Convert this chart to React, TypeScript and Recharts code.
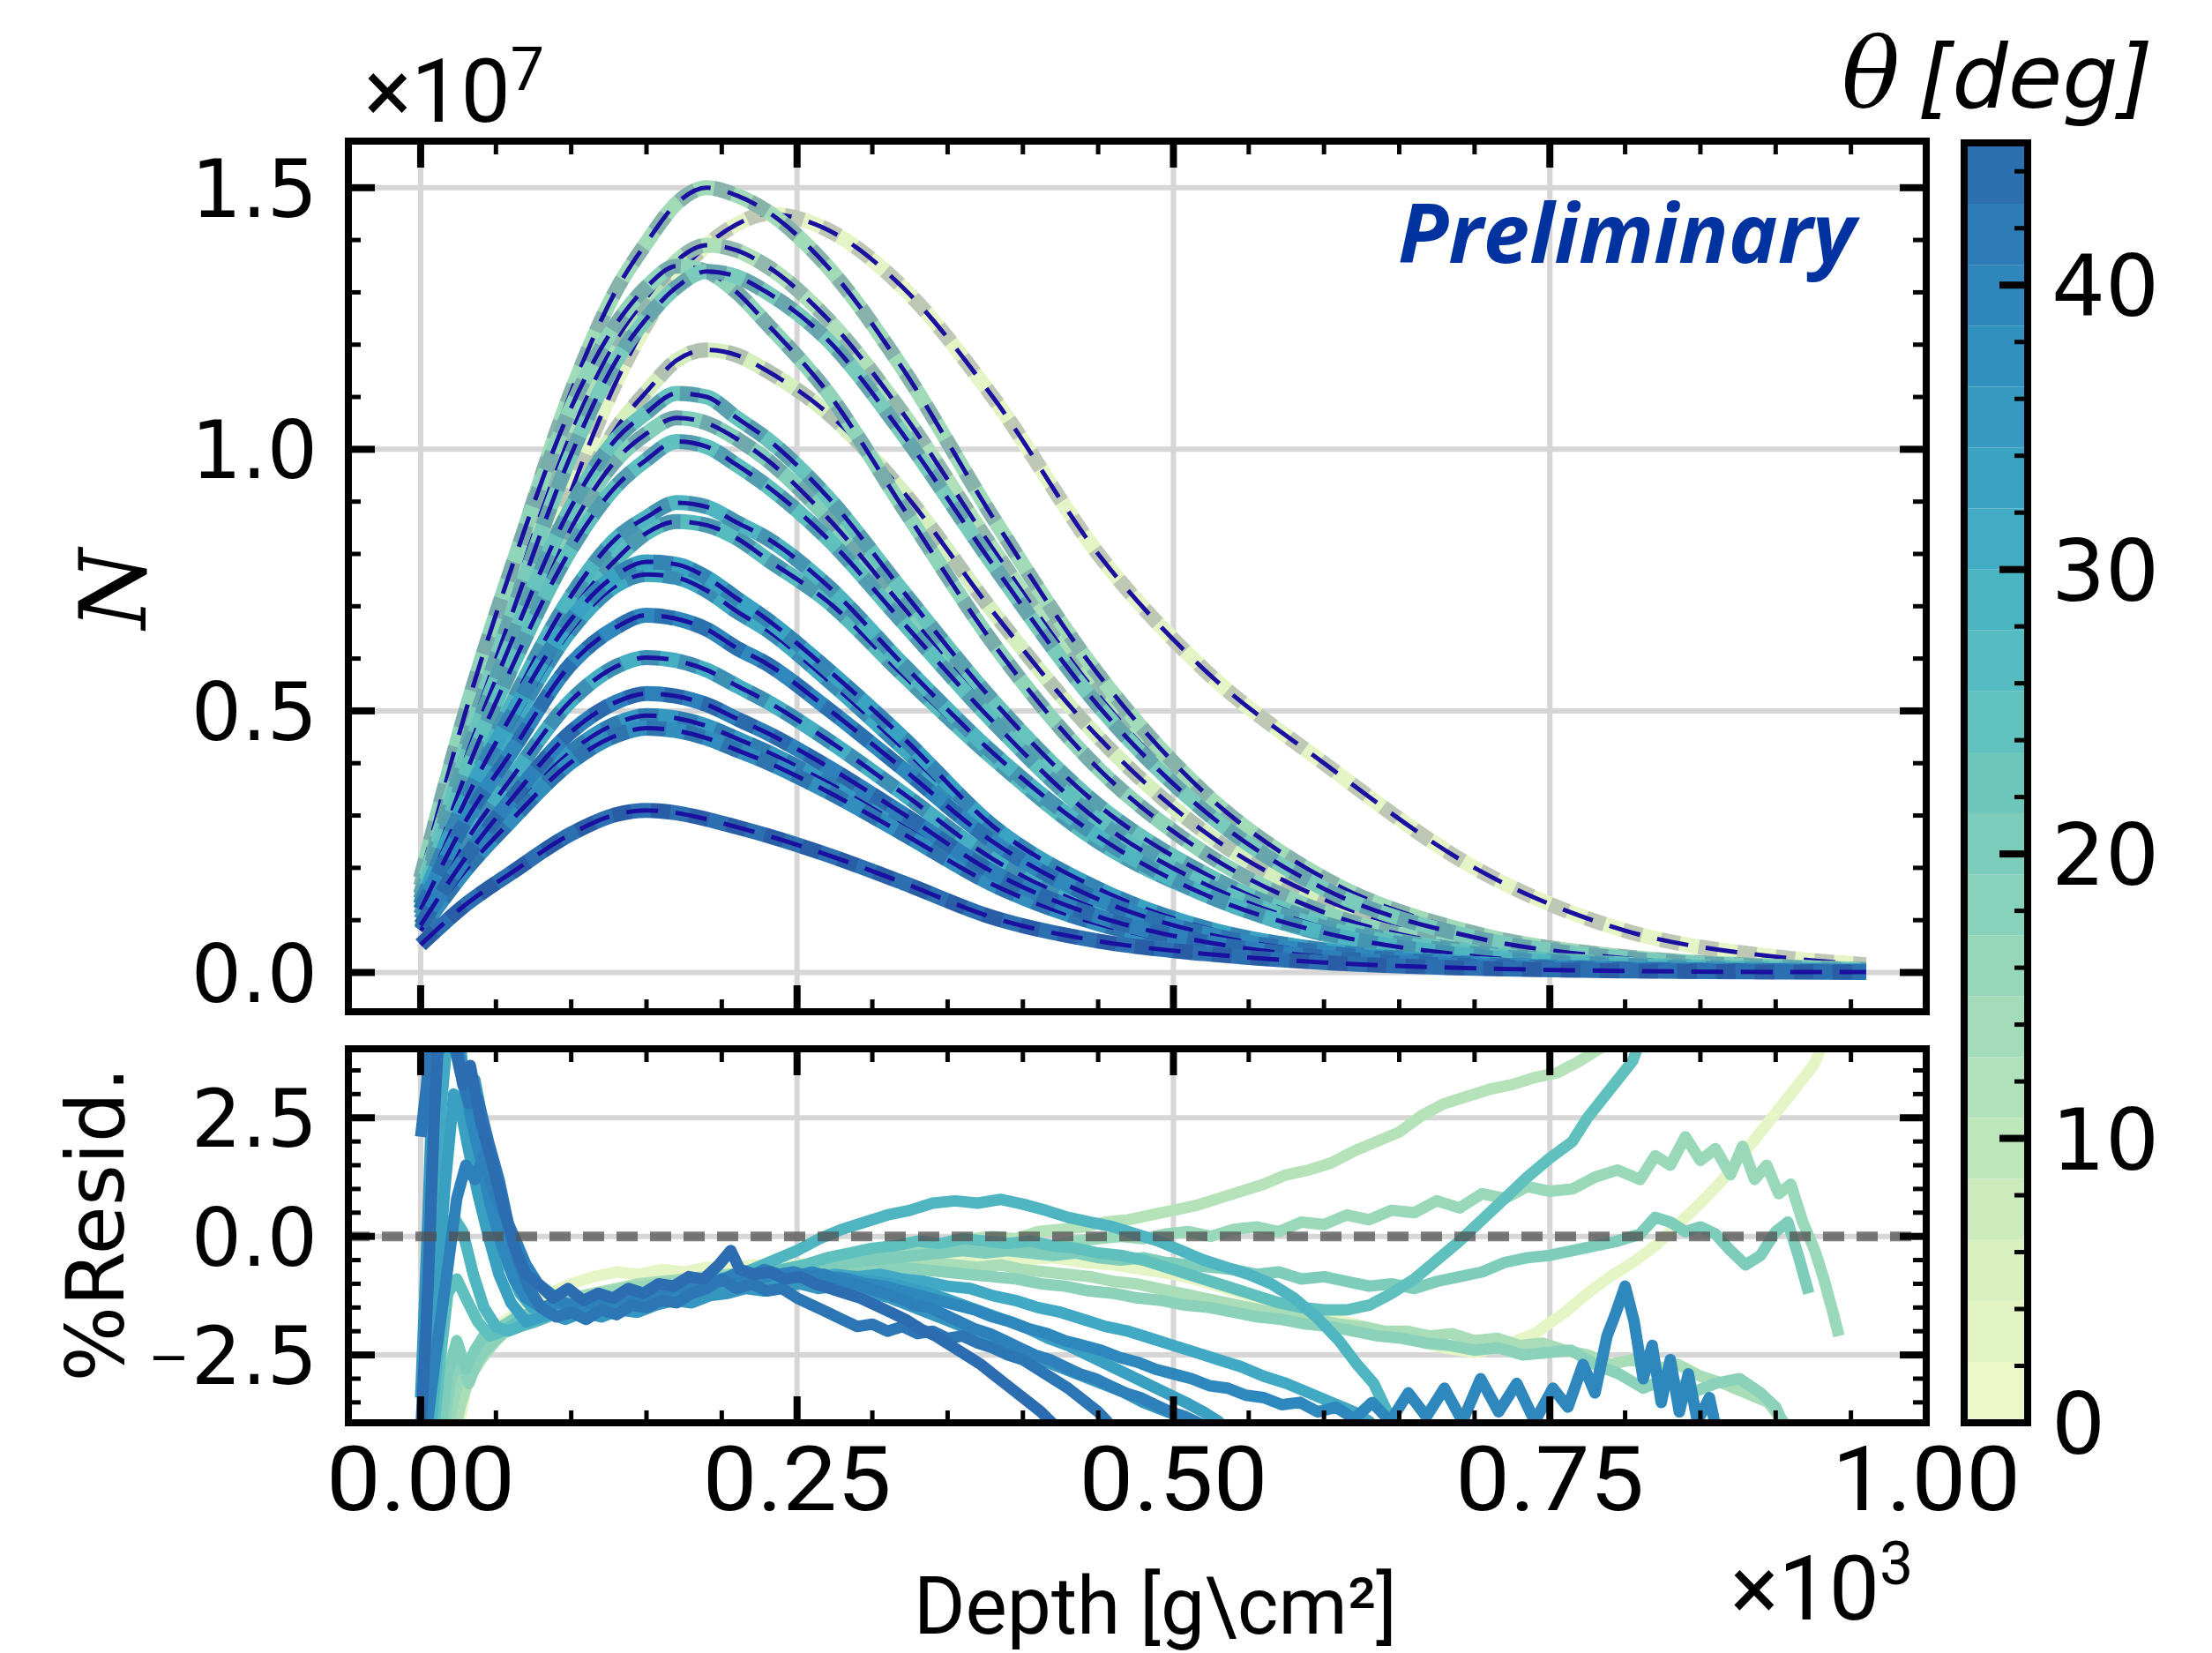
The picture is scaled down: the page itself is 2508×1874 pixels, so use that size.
import React from 'react';
import { LineChart, Line, XAxis, YAxis, CartesianGrid, ReferenceLine, BarChart, Bar } from 'recharts';

// ---------------- layout ----------------
const W = 2508;
const H = 1874;
const PLOT_L = 395;
const PLOT_R = 2184;
const TOP_T = 160;
const TOP_B = 1147;
const BOT_T = 1189;
const BOT_B = 1613;
const CB_L = 2227;
const CB_R = 2299;
const CB_T = 162;
const CB_B = 1613;

// ---------------- axes / ticks ----------------
const X_DOMAIN = [-48, 1000];
const X_MAJOR = [0, 250, 500, 750, 1000];
const X_MINOR = [50, 100, 150, 200, 300, 350, 400, 450, 550, 600, 650, 700, 800, 850, 900, 950];
const X_ALL = [0, 50, 100, 150, 200, 250, 300, 350, 400, 450, 500, 550, 600, 650, 700, 750, 800, 850, 900, 950, 1000];

const Y_TOP_DOMAIN = [-0.075, 1.589];
const Y_TOP_MAJOR = [0, 0.5, 1.0, 1.5];
const Y_TOP_MINOR = [0.1, 0.2, 0.3, 0.4, 0.6, 0.7, 0.8, 0.9, 1.1, 1.2, 1.3, 1.4];
const Y_TOP_ALL = [0, 0.1, 0.2, 0.3, 0.4, 0.5, 0.6, 0.7, 0.8, 0.9, 1.0, 1.1, 1.2, 1.3, 1.4, 1.5];

const Y_BOT_DOMAIN = [-3.93, 3.955];
const Y_BOT_MAJOR = [-2.5, 0, 2.5];
const Y_BOT_MINOR = [-3.5, -3, -2, -1.5, -1, -0.5, 0.5, 1, 1.5, 2, 3, 3.5];
const Y_BOT_ALL = [-3.5, -3, -2.5, -2, -1.5, -1, -0.5, 0, 0.5, 1, 1.5, 2, 2.5, 3, 3.5];

const CB_DOMAIN = [0, 45];
const CB_MAJOR = [0, 10, 20, 30, 40];
const CB_ALL = [0, 2, 4, 6, 8, 10, 12, 14, 16, 18, 20, 22, 24, 26, 28, 30, 32, 34, 36, 38, 40, 42, 44];

// ---------------- shower profiles (N / 1e7) ----------------
const DEPTH = [0, 30, 60, 100, 130, 150, 170, 190, 210, 230, 270, 320, 380, 450, 520, 600, 700, 800, 900, 960];

const N_C1 = [0.165, 0.48, 0.765, 1.11, 1.305, 1.395, 1.47, 1.5, 1.485, 1.455, 1.35, 1.155, 0.87, 0.57, 0.345, 0.18, 0.075, 0.03, 0.012, 0.006];
const N_C2 = [0.12, 0.33, 0.58, 0.92, 1.13, 1.24, 1.33, 1.39, 1.43, 1.45, 1.42, 1.31, 1.1, 0.8, 0.58, 0.4, 0.2, 0.08, 0.03, 0.015];
const N_C3 = [0.15, 0.44, 0.71, 1.03, 1.21, 1.29, 1.36, 1.39, 1.38, 1.35, 1.25, 1.07, 0.81, 0.53, 0.32, 0.17, 0.07, 0.028, 0.011, 0.006];
const N_C4 = [0.18, 0.5, 0.77, 1.08, 1.24, 1.31, 1.35, 1.34, 1.3, 1.24, 1.11, 0.89, 0.63, 0.39, 0.23, 0.115, 0.047, 0.019, 0.008, 0.004];
const N_C5 = [0.15, 0.43, 0.68, 0.99, 1.17, 1.25, 1.31, 1.34, 1.33, 1.3, 1.21, 1.03, 0.78, 0.51, 0.31, 0.16, 0.067, 0.027, 0.011, 0.005];
const N_C6 = [0.13, 0.38, 0.61, 0.88, 1.04, 1.11, 1.17, 1.19, 1.18, 1.15, 1.07, 0.92, 0.69, 0.45, 0.27, 0.14, 0.06, 0.024, 0.01, 0.005];
const N_C7 = [0.14, 0.41, 0.63, 0.89, 1.02, 1.07, 1.107, 1.1, 1.06, 1.02, 0.91, 0.73, 0.52, 0.32, 0.19, 0.094, 0.039, 0.016, 0.007, 0.003];
const N_C8 = [0.14, 0.39, 0.6, 0.85, 0.98, 1.03, 1.06, 1.05, 1.02, 0.98, 0.87, 0.7, 0.5, 0.31, 0.18, 0.09, 0.037, 0.015, 0.006, 0.003];
const N_C9 = [0.13, 0.38, 0.58, 0.81, 0.93, 0.98, 1.015, 1.005, 0.97, 0.93, 0.83, 0.67, 0.48, 0.29, 0.17, 0.086, 0.036, 0.014, 0.006, 0.003];
const N_C10 = [0.12, 0.33, 0.51, 0.72, 0.83, 0.87, 0.898, 0.89, 0.86, 0.83, 0.74, 0.59, 0.42, 0.26, 0.15, 0.076, 0.031, 0.013, 0.005, 0.003];
const N_C11 = [0.11, 0.32, 0.49, 0.69, 0.79, 0.84, 0.862, 0.855, 0.83, 0.79, 0.71, 0.57, 0.41, 0.25, 0.15, 0.073, 0.03, 0.012, 0.005, 0.003];
const N_C12 = [0.13, 0.33, 0.49, 0.675, 0.76, 0.785, 0.78, 0.755, 0.715, 0.675, 0.58, 0.45, 0.28, 0.16, 0.086, 0.043, 0.017, 0.007, 0.003, 0.002];
const N_C13 = [0.13, 0.32, 0.47, 0.655, 0.74, 0.761, 0.755, 0.73, 0.69, 0.655, 0.56, 0.43, 0.27, 0.15, 0.084, 0.042, 0.017, 0.007, 0.003, 0.002];
const N_C14 = [0.12, 0.29, 0.42, 0.59, 0.66, 0.683, 0.676, 0.656, 0.62, 0.59, 0.505, 0.39, 0.25, 0.14, 0.075, 0.038, 0.015, 0.006, 0.003, 0.001];
const N_C15 = [0.1, 0.25, 0.37, 0.52, 0.585, 0.602, 0.596, 0.578, 0.548, 0.518, 0.445, 0.343, 0.217, 0.12, 0.066, 0.033, 0.013, 0.005, 0.002, 0.001];
const N_C16 = [0.09, 0.22, 0.33, 0.46, 0.517, 0.533, 0.528, 0.512, 0.485, 0.458, 0.394, 0.304, 0.192, 0.107, 0.059, 0.029, 0.012, 0.005, 0.002, 0.001];
const N_C17 = [0.083, 0.206, 0.304, 0.422, 0.476, 0.491, 0.486, 0.471, 0.447, 0.422, 0.363, 0.28, 0.177, 0.098, 0.054, 0.027, 0.011, 0.004, 0.002, 0.001];
const N_C18 = [0.08, 0.196, 0.29, 0.402, 0.453, 0.467, 0.462, 0.448, 0.425, 0.402, 0.346, 0.266, 0.168, 0.093, 0.051, 0.026, 0.01, 0.004, 0.002, 0.001];
const N_C19 = [0.053, 0.13, 0.19, 0.265, 0.302, 0.31, 0.305, 0.293, 0.278, 0.262, 0.225, 0.172, 0.105, 0.06, 0.036, 0.019, 0.008, 0.003, 0.001, 0.001];

const PROFILES = [N_C1, N_C2, N_C3, N_C4, N_C5, N_C6, N_C7, N_C8, N_C9, N_C10, N_C11, N_C12, N_C13, N_C14, N_C15, N_C16, N_C17, N_C18, N_C19];
const PROFILE_THETA = [13, 2, 11, 16, 19, 4, 22, 18, 24, 27, 25, 33, 30, 38, 29, 40, 35, 37, 43];
const PROFILE_COLORS = ['#a2dbb8', '#e6f5c5', '#b0e0b9', '#90d4b9', '#7acbbb', '#d6efbf', '#68c4bc', '#84cfba', '#5fc0be', '#4fb6c1', '#58bcbf', '#3aa2c2', '#40aac3', '#3089bd', '#45aec3', '#2e80ba', '#3598c0', '#328ebe', '#2c70b2'];

// ---------------- residuals (%), [depth, resid] ----------------
type P = [number, number];
const RES_T02: P[] = [[24,-4.3],[30,-3.2],[36,-2.5],[44,-2.1],[55,-1.8],[70,-1.5],[85,-1.2],[100,-1.0],[115,-0.85],[130,-0.75],[145,-0.8],[160,-0.7],[175,-0.75],[190,-0.65],[205,-0.7],[220,-0.6],[240,-0.65],[260,-0.55],[280,-0.6],[300,-0.5],[320,-0.55],[340,-0.45],[360,-0.5],[380,-0.45],[400,-0.5],[420,-0.45],[440,-0.55],[460,-0.6],[480,-0.7],[500,-0.8],[520,-0.95],[540,-1.15],[560,-1.35],[580,-1.55],[600,-1.7],[620,-1.85],[640,-2.0],[660,-2.2],[680,-2.35],[700,-2.45],[720,-2.3],[740,-2.05],[760,-1.6],[775,-1.2],[790,-0.85],[805,-0.55],[820,-0.2],[835,0.25],[850,0.7],[865,1.2],[880,1.8],[895,2.4],[910,3.0],[925,3.6],[935,4.3]];
const RES_T10: P[] = [[22,-4.3],[28,-3.3],[35,-2.7],[44,-2.3],[55,-2.0],[68,-1.8],[80,-1.6],[95,-1.45],[110,-1.3],[125,-1.2],[140,-1.15],[155,-1.05],[170,-1.1],[185,-0.95],[200,-0.9],[215,-0.8],[230,-0.85],[245,-0.7],[260,-0.65],[275,-0.55],[290,-0.5],[305,-0.4],[320,-0.35],[335,-0.2],[350,-0.15],[365,-0.05],[380,0.0],[395,-0.05],[410,0.1],[425,0.15],[440,0.2],[455,0.3],[470,0.35],[485,0.45],[500,0.55],[515,0.65],[530,0.8],[545,0.95],[560,1.1],[575,1.3],[590,1.4],[605,1.55],[620,1.8],[635,2.0],[650,2.2],[665,2.55],[680,2.8],[695,2.95],[710,3.1],[725,3.2],[740,3.35],[755,3.45],[770,3.7],[785,4.0],[795,4.3]];
const RES_T12: P[] = [[20,-4.3],[26,-3.6],[32,-3.0],[40,-2.6],[50,-2.2],[60,-1.9],[72,-1.7],[85,-1.5],[100,-1.3],[115,-1.2],[130,-1.1],[145,-1.0],[160,-0.95],[175,-0.9],[190,-0.85],[205,-0.8],[220,-0.75],[235,-0.7],[250,-0.7],[265,-0.65],[280,-0.6],[295,-0.6],[310,-0.55],[325,-0.6],[340,-0.55],[355,-0.6],[370,-0.65],[385,-0.6],[400,-0.7],[415,-0.75],[430,-0.8],[445,-0.85],[460,-0.95],[475,-1.0],[490,-1.1],[505,-1.2],[520,-1.3],[535,-1.4],[550,-1.5],[565,-1.6],[580,-1.7],[595,-1.75],[610,-1.85],[625,-1.9],[640,-2.0],[655,-2.0],[670,-2.1],[685,-2.05],[700,-2.2],[715,-2.15],[730,-2.3],[745,-2.25],[760,-2.4],[775,-2.5],[790,-2.7],[805,-2.6],[820,-2.8],[835,-2.7],[850,-2.95],[865,-3.1],[880,-3.3],[895,-3.5],[905,-3.9],[912,-4.3]];
const RES_T15: P[] = [[16,-4.3],[22,-3.4],[28,-2.8],[34,-2.6],[42,-2.3],[52,-2.0],[62,-1.8],[75,-1.6],[90,-1.45],[105,-1.3],[120,-1.2],[135,-1.1],[150,-1.05],[165,-0.95],[180,-0.95],[195,-0.85],[210,-0.8],[225,-0.75],[240,-0.7],[255,-0.6],[270,-0.55],[285,-0.5],[300,-0.45],[315,-0.4],[330,-0.3],[345,-0.3],[360,-0.25],[375,-0.2],[390,-0.25],[405,-0.15],[420,-0.2],[435,-0.1],[450,-0.05],[465,0.0],[480,-0.05],[495,0.05],[510,0.1],[525,0.0],[540,0.15],[555,0.2],[570,0.1],[585,0.3],[600,0.25],[615,0.45],[630,0.35],[645,0.55],[660,0.5],[675,0.75],[690,0.6],[705,0.9],[720,0.8],[735,1.05],[750,0.95],[765,1.0],[780,1.25],[795,1.4],[810,1.2],[820,1.7],[830,1.5],[840,2.1],[850,1.6],[860,1.85],[870,1.3],[878,1.9],[886,1.2],[894,1.5],[902,0.9],[910,1.1],[918,0.3],[926,-0.3],[932,-0.9],[938,-1.6],[942,-2.1]];
const RES_T17: P[] = [[14,-4.3],[20,-3.0],[26,-2.6],[32,-3.1],[38,-2.6],[46,-2.3],[56,-2.0],[66,-1.8],[78,-1.65],[92,-1.5],[108,-1.4],[124,-1.3],[140,-1.25],[156,-1.15],[172,-1.1],[188,-1.0],[204,-0.95],[220,-0.9],[236,-0.85],[252,-0.8],[268,-0.75],[284,-0.7],[300,-0.7],[316,-0.65],[332,-0.7],[348,-0.75],[364,-0.8],[380,-0.85],[396,-0.9],[412,-1.0],[428,-1.05],[444,-1.15],[460,-1.2],[476,-1.3],[492,-1.35],[508,-1.45],[524,-1.5],[540,-1.6],[556,-1.7],[572,-1.75],[588,-1.85],[604,-1.9],[620,-2.0],[636,-2.1],[652,-2.15],[668,-2.25],[684,-2.3],[700,-2.4],[716,-2.35],[732,-2.5],[748,-2.45],[764,-2.4],[780,-2.7],[796,-2.9],[812,-3.2],[828,-3.0],[844,-3.3],[860,-3.1],[876,-3.0],[890,-3.3],[900,-3.6],[910,-4.3]];
const RES_T19: P[] = [[12,-4.3],[18,-2.9],[24,-2.2],[30,-2.8],[36,-2.4],[44,-2.0],[54,-1.9],[64,-1.7],[76,-1.6],[90,-1.5],[105,-1.4],[120,-1.35],[135,-1.25],[150,-1.2],[165,-1.1],[180,-1.05],[195,-1.0],[210,-0.95],[225,-0.85],[240,-0.8],[255,-0.7],[270,-0.65],[285,-0.55],[300,-0.5],[315,-0.45],[330,-0.4],[345,-0.35],[360,-0.3],[375,-0.35],[390,-0.3],[405,-0.35],[420,-0.4],[435,-0.35],[450,-0.45],[465,-0.5],[480,-0.45],[495,-0.55],[510,-0.6],[525,-0.65],[540,-0.7],[555,-0.8],[570,-0.75],[585,-0.9],[600,-0.85],[615,-0.95],[630,-1.05],[645,-1.0],[660,-1.1],[675,-0.95],[690,-0.85],[705,-0.75],[720,-0.55],[735,-0.45],[750,-0.4],[765,-0.3],[780,-0.2],[795,-0.1],[810,0.05],[820,0.4],[830,0.3],[840,0.1],[850,0.2],[860,0.05],[870,-0.3],[880,-0.6],[890,-0.4],[900,0.1],[908,0.3],[915,-0.4],[922,-1.2]];
const RES_T24: P[] = [[8,-4.3],[13,-2.6],[18,-1.2],[24,-0.9],[30,-1.3],[38,-1.8],[46,-2.1],[55,-2.0],[65,-1.8],[75,-1.7],[90,-1.5],[105,-1.45],[120,-1.3],[135,-1.35],[150,-1.2],[165,-1.15],[180,-1.05],[195,-1.0],[210,-0.9],[225,-0.85],[240,-0.7],[255,-0.6],[270,-0.45],[285,-0.35],[300,-0.25],[315,-0.2],[330,-0.1],[345,-0.15],[360,-0.05],[375,-0.1],[390,-0.15],[405,-0.1],[420,-0.2],[435,-0.25],[450,-0.35],[465,-0.4],[480,-0.5],[495,-0.65],[510,-0.8],[525,-0.95],[540,-1.1],[555,-1.25],[570,-1.4],[585,-1.5],[600,-1.55],[615,-1.55],[630,-1.45],[645,-1.2],[660,-0.9],[675,-0.5],[690,-0.1],[705,0.35],[720,0.8],[735,1.25],[750,1.65],[765,2.0],[775,2.5],[785,2.9],[795,3.3],[805,3.7],[812,4.3]];
const RES_T27: P[] = [[6,-4.3],[12,-2.2],[17,-0.6],[22,0.4],[28,0.1],[35,-0.8],[42,-1.5],[50,-1.9],[58,-2.0],[66,-1.9],[76,-1.8],[88,-1.65],[100,-1.55],[115,-1.45],[130,-1.4],[145,-1.3],[160,-1.2],[175,-1.1],[190,-0.95],[205,-0.85],[220,-0.7],[235,-0.5],[250,-0.3],[265,-0.05],[280,0.15],[295,0.3],[310,0.45],[325,0.55],[340,0.7],[355,0.75],[370,0.7],[385,0.78],[400,0.68],[415,0.55],[430,0.4],[445,0.3],[460,0.2],[475,0.05],[490,-0.1],[505,-0.3],[520,-0.5],[535,-0.65],[550,-0.8],[565,-1.0],[580,-1.3],[595,-1.7],[610,-2.2],[622,-2.7],[633,-3.1],[645,-3.9],[652,-4.3]];
const RES_T31: P[] = [[2,-4.3],[8,-0.5],[13,2.5],[18,4.3],[26,4.3],[30,2.6],[36,2.0],[42,1.2],[50,0.2],[58,-0.6],[66,-1.2],[74,-1.5],[84,-1.55],[96,-1.4],[110,-1.5],[125,-1.35],[140,-1.4],[155,-1.25],[170,-1.2],[185,-1.1],[200,-1.15],[215,-1.0],[230,-0.95],[245,-0.85],[260,-0.9],[275,-0.8],[290,-0.85],[305,-0.8],[320,-0.9],[335,-0.95],[350,-1.05],[365,-1.1],[380,-1.25],[395,-1.35],[410,-1.5],[425,-1.6],[440,-1.75],[455,-1.9],[470,-2.0],[485,-2.15],[500,-2.3],[515,-2.45],[530,-2.6],[545,-2.75],[560,-2.95],[575,-3.1],[590,-3.3],[605,-3.5],[620,-3.7],[630,-3.9],[640,-4.3]];
const RES_T33: P[] = [[4,-4.3],[10,-1.5],[16,1.0],[22,3.0],[27,2.6],[32,1.8],[38,0.9],[45,0.0],[52,-0.8],[60,-1.4],[70,-1.8],[80,-1.7],[92,-1.6],[105,-1.5],[118,-1.6],[131,-1.45],[144,-1.4],[157,-1.3],[170,-1.35],[183,-1.2],[196,-1.15],[209,-1.05],[222,-1.0],[235,-0.95],[248,-0.9],[261,-0.95],[274,-0.85],[287,-0.9],[300,-0.95],[313,-1.0],[326,-1.1],[339,-1.2],[352,-1.35],[365,-1.5],[378,-1.65],[391,-1.8],[404,-1.95],[417,-2.15],[430,-2.3],[443,-2.5],[456,-2.7],[469,-2.9],[482,-3.1],[495,-3.3],[508,-3.5],[520,-3.7],[530,-3.9],[538,-4.3]];
const RES_T35: P[] = [[0,-3.4],[5,0.5],[9,4.3],[24,4.3],[30,3.0],[36,3.3],[42,2.3],[50,1.0],[58,0.0],[66,-0.7],[74,-1.3],[84,-1.6],[96,-1.75],[108,-1.6],[120,-1.7],[132,-1.55],[144,-1.6],[156,-1.45],[168,-1.35],[180,-1.4],[192,-1.25],[204,-1.2],[216,-1.1],[228,-1.15],[240,-1.05],[252,-1.0],[264,-1.1],[276,-1.05],[288,-1.15],[300,-1.2],[312,-1.3],[324,-1.45],[336,-1.6],[348,-1.75],[360,-1.9],[372,-2.05],[384,-2.2],[396,-2.4],[408,-2.55],[420,-2.7],[432,-2.85],[444,-3.0],[456,-3.15],[468,-3.3],[480,-3.5],[492,-3.65],[504,-3.8],[514,-3.95],[520,-4.3]];
const RES_T38: P[] = [[1,-4.3],[6,0.0],[10,3.6],[15,4.3],[22,4.3],[28,3.4],[34,2.4],[40,1.6],[46,0.7],[54,-0.2],[62,-0.9],[70,-1.3],[80,-1.5],[92,-1.4],[104,-1.55],[116,-1.4],[128,-1.5],[140,-1.3],[152,-1.35],[164,-1.2],[176,-1.15],[188,-1.0],[200,-0.95],[212,-0.85],[224,-0.9],[236,-0.8],[248,-0.85],[260,-0.75],[272,-0.85],[284,-0.9],[296,-1.0],[308,-1.05],[320,-1.15],[332,-1.25],[344,-1.35],[356,-1.45],[368,-1.55],[380,-1.7],[392,-1.8],[404,-1.95],[416,-2.05],[428,-2.2],[440,-2.3],[452,-2.4],[464,-2.55],[476,-2.65],[488,-2.8],[500,-2.9],[512,-3.0],[524,-3.15],[536,-3.2],[548,-3.35],[560,-3.4],[572,-3.55],[584,-3.5],[596,-3.7],[608,-3.6],[620,-3.85],[632,-3.5],[644,-3.9],[656,-3.3],[668,-3.8],[680,-3.2],[692,-3.9],[704,-3.0],[716,-3.7],[728,-3.1],[740,-3.9],[752,-3.2],[762,-3.6],[772,-2.7],[780,-3.3],[788,-2.1],[794,-1.6],[800,-1.05],[806,-1.8],[812,-3.0],[818,-2.3],[824,-3.5],[830,-2.6],[836,-3.7],[842,-2.9],[848,-3.9],[856,-3.4],[862,-4.3]];
const RES_T40: P[] = [[3,-4.3],[10,-2.5],[17,-0.9],[24,0.8],[30,1.5],[36,1.2],[42,1.7],[48,0.95],[55,0.5],[62,0.0],[70,-0.6],[78,-1.0],[88,-1.25],[98,-1.45],[108,-1.35],[118,-1.5],[128,-1.3],[138,-1.4],[148,-1.2],[158,-1.25],[168,-1.05],[178,-1.1],[188,-0.9],[198,-0.95],[208,-0.8],[218,-0.85],[228,-0.7],[238,-0.8],[248,-0.75],[258,-0.85],[268,-0.8],[278,-0.95],[288,-1.0],[298,-1.1],[308,-1.2],[318,-1.3],[328,-1.45],[338,-1.5],[348,-1.65],[358,-1.8],[368,-1.95],[378,-2.05],[388,-2.2],[398,-2.35],[408,-2.5],[418,-2.6],[428,-2.75],[438,-2.9],[448,-3.0],[458,-3.15],[468,-3.3],[478,-3.4],[488,-3.55],[498,-3.7],[508,-3.8],[518,-3.95],[526,-4.3]];
const RES_T42: P[] = [[0,2.1],[4,3.2],[7,4.4],[20,4.4],[26,3.5],[32,2.8],[38,2.9],[45,2.0],[52,1.2],[58,0.3],[65,-0.5],[72,-1.1],[80,-1.5],[90,-1.7],[100,-1.6],[110,-1.75],[120,-1.55],[130,-1.65],[140,-1.45],[150,-1.5],[160,-1.35],[170,-1.4],[180,-1.2],[190,-1.1],[200,-0.9],[210,-1.1],[220,-1.0],[230,-1.15],[240,-1.1],[250,-1.3],[260,-1.45],[270,-1.6],[280,-1.75],[290,-1.9],[300,-1.85],[310,-2.0],[320,-1.9],[330,-2.05],[340,-2.0],[350,-2.15],[360,-2.1],[370,-2.25],[380,-2.35],[390,-2.5],[400,-2.6],[410,-2.8],[420,-3.0],[430,-3.2],[440,-3.45],[450,-3.7],[456,-3.9],[462,-4.3]];
const RES_T44: P[] = [[0,-4.2],[5,-1.0],[9,2.5],[12,4.3],[22,4.3],[28,3.2],[33,3.6],[40,2.4],[47,1.6],[55,0.6],[62,-0.2],[70,-0.8],[78,-1.0],[88,-1.3],[98,-1.1],[108,-1.35],[118,-1.2],[128,-1.3],[138,-1.1],[148,-1.2],[158,-1.0],[168,-1.05],[178,-0.85],[188,-0.9],[198,-0.6],[206,-0.3],[212,-0.7],[222,-0.8],[232,-0.75],[242,-0.9],[252,-0.85],[262,-1.0],[272,-1.1],[282,-1.2],[292,-1.3],[302,-1.45],[312,-1.6],[322,-1.75],[332,-1.95],[342,-2.1],[352,-2.3],[362,-2.5],[372,-2.7],[382,-2.95],[392,-3.2],[402,-3.45],[412,-3.7],[420,-3.95],[426,-4.3]];

const RESIDUALS = [RES_T02, RES_T10, RES_T12, RES_T15, RES_T17, RES_T19, RES_T24, RES_T27, RES_T31, RES_T33, RES_T35, RES_T38, RES_T40, RES_T42, RES_T44];
const RESIDUAL_COLORS = ['#e6f5c5', '#b5e2b9', '#a8ddb7', '#99d8b8', '#8cd2ba', '#7ecdbb', '#5fc0be', '#4fb6c1', '#41a9c3', '#3aa0c2', '#3596c0', '#2f88bd', '#2d80ba', '#2c76b5', '#2c6cb0'];

// ---------------- colour bar ----------------
const CB_BAND_COLORS = ['#edf8c9', '#e3f4c4', '#d8f0c0', '#cbebbd', '#bee6bb', '#b1e1ba', '#a4dcb9', '#96d7b9', '#88d1ba', '#7bccbb', '#6dc6bc', '#61c1be', '#55bbc0', '#4ab4c1', '#41acc3', '#3ba3c2', '#369ac0', '#3290be', '#2f86bb', '#2d7bb7', '#2c70b2'];
const THETA_MAX = 45;

// ---------------- derived tables ----------------
const profileRows = DEPTH.map((d, i) => {
  const row: Record<string, number> = { depth: d };
  PROFILES.forEach((p, k) => { row['c' + k] = p[i]; });
  return row;
});
const profileOrder = PROFILE_THETA.map((_, i) => i).sort((a, b) => PROFILE_THETA[a] - PROFILE_THETA[b]);
const residualData = RESIDUALS.map((r) => r.map(([x, y]) => ({ depth: x, r: y })));
const cbRow: Record<string, any> = { name: 'theta' };
CB_BAND_COLORS.forEach((_, i) => { cbRow['b' + i] = THETA_MAX / CB_BAND_COLORS.length; });

// ---------------- tick renderer ----------------
type TickOpts = {
  side: 'bottom' | 'top' | 'left' | 'right';
  majors: number[];
  majorLen?: number;
  minorLen?: number;
  labels?: boolean;
  fmt?: (v: number) => string;
  font?: string;
  size?: number;
  offset?: number;
  shift?: number;
  textLen?: number;
};
const isIn = (v: number, arr: number[]) => arr.some((m) => Math.abs(m - v) < 1e-6);

function tickRenderer(o: TickOpts) {
  return (p: any) => {
    const { x, y, payload } = p;
    const v = payload.value as number;
    const major = isIn(v, o.majors);
    const len = major ? (o.majorLen ?? 30) : (o.minorLen ?? 15);
    const sw = major ? 8 : 5;
    let x2 = x;
    let y2 = y;
    if (o.side === 'bottom') y2 = y - len;
    if (o.side === 'top') y2 = y + len;
    if (o.side === 'left') x2 = x + len;
    if (o.side === 'right') x2 = x - len;
    let label: React.ReactNode = null;
    if (o.labels && major) {
      const s = o.fmt ? o.fmt(v) : String(v);
      const common: any = { fontFamily: o.font, fontSize: o.size, fill: '#000' };
      if (o.textLen) { common.textLength = o.textLen; common.lengthAdjust = 'spacingAndGlyphs'; }
      const neg = s.startsWith('\u2212');
      const size = o.size ?? 80;
      const content = neg ? (
        <>
          <tspan fontSize={size * 0.62} dy={-size * 0.14}>{'\u2212'}</tspan>
          <tspan dy={size * 0.14} dx={2}>{s.slice(1)}</tspan>
        </>
      ) : s;
      if (o.side === 'bottom') label = <text x={x} y={y + (o.offset ?? 0)} textAnchor="middle" {...common}>{content}</text>;
      if (o.side === 'left') label = <text x={x - (o.offset ?? 0)} y={y + (o.shift ?? 0)} textAnchor="end" {...common}>{content}</text>;
      if (o.side === 'right') label = <text x={x + (o.offset ?? 0)} y={y + (o.shift ?? 0)} textAnchor="start" {...common}>{content}</text>;
    }
    return (
      <g>
        <line x1={x} y1={y} x2={x2} y2={y2} stroke="#000" strokeWidth={sw} />
        {label}
      </g>
    );
  };
}

const FRAME = { stroke: '#000', strokeWidth: 8, strokeLinecap: 'square' as const };
const fmtY = (v: number) => v.toFixed(1).replace('-', '\u2212');
const fmtX = (v: number) => (v / 1000).toFixed(2);

// axes are 1px thick (a 0px axis is not drawn); margins account for it
const axisCommon = { tickSize: 0, tickMargin: 0, interval: 0 as const, allowDataOverflow: true, tickLine: false };

export default function App() {
  return (
    <div style={{ position: 'absolute', left: 0, top: 0, width: W, height: H, background: '#fff', overflow: 'hidden' }}>
      {/* ---------- top panel ---------- */}
      <div style={{ position: 'absolute', left: 0, top: 0 }}>
        <LineChart width={W} height={H} data={profileRows} margin={{ top: TOP_T - 1, left: PLOT_L - 2, right: W - PLOT_R - 1, bottom: H - TOP_B - 2 }}>
          <CartesianGrid stroke="#d6d6d6" strokeWidth={6} />
          <XAxis dataKey="depth" type="number" domain={X_DOMAIN} ticks={X_MAJOR} height={1} axisLine={FRAME} {...axisCommon} tick={tickRenderer({ side: 'bottom', majors: X_MAJOR })} />
          <XAxis xAxisId="xm" dataKey="depth" type="number" domain={X_DOMAIN} ticks={X_MINOR} height={1} axisLine={false} {...axisCommon} tick={tickRenderer({ side: 'bottom', majors: [] })} />
          <XAxis xAxisId="xt" orientation="top" dataKey="depth" type="number" domain={X_DOMAIN} ticks={X_ALL} height={1} axisLine={FRAME} {...axisCommon} tick={tickRenderer({ side: 'top', majors: X_MAJOR })} />
          <YAxis type="number" domain={Y_TOP_DOMAIN} ticks={Y_TOP_MAJOR} width={1} axisLine={FRAME} {...axisCommon}
            tick={tickRenderer({ side: 'left', majors: Y_TOP_MAJOR, labels: true, fmt: fmtY, font: 'DejaVu Sans', size: 90, offset: 35, shift: 33 })} />
          <YAxis yAxisId="ym" type="number" domain={Y_TOP_DOMAIN} ticks={Y_TOP_MINOR} width={1} axisLine={false} {...axisCommon} tick={tickRenderer({ side: 'left', majors: [] })} />
          <YAxis yAxisId="yr" orientation="right" type="number" domain={Y_TOP_DOMAIN} ticks={Y_TOP_ALL} width={1} axisLine={FRAME} {...axisCommon} tick={tickRenderer({ side: 'right', majors: Y_TOP_MAJOR })} />
          {profileOrder.map((k) => [
            <Line key={'s' + k} dataKey={'c' + k} type="monotone" stroke={PROFILE_COLORS[k]} strokeWidth={17} dot={false} activeDot={false} isAnimationActive={false} strokeLinecap="butt" />,
            <Line key={'o' + k} dataKey={'c' + k} type="monotone" stroke="rgba(30,20,120,0.2)" strokeWidth={17} strokeDasharray="22 22" dot={false} activeDot={false} isAnimationActive={false} />,
            <Line key={'f' + k} dataKey={'c' + k} type="monotone" stroke="#1b0fa0" strokeWidth={5} strokeDasharray="36 20" dot={false} activeDot={false} isAnimationActive={false} />,
          ])}
        </LineChart>
      </div>

      {/* ---------- residual panel ---------- */}
      <div style={{ position: 'absolute', left: 0, top: 0 }}>
        <LineChart width={W} height={H} margin={{ top: BOT_T - 1, left: PLOT_L - 2, right: W - PLOT_R - 1, bottom: H - BOT_B - 2 }}>
          <CartesianGrid stroke="#d6d6d6" strokeWidth={6} />
          <XAxis dataKey="depth" type="number" domain={X_DOMAIN} ticks={X_MAJOR} height={1} axisLine={FRAME} {...axisCommon}
            tick={tickRenderer({ side: 'bottom', majors: X_MAJOR, labels: true, fmt: fmtX, font: 'Roboto', size: 102, offset: 99, textLen: 214 })} />
          <XAxis xAxisId="xm" dataKey="depth" type="number" domain={X_DOMAIN} ticks={X_MINOR} height={1} axisLine={false} {...axisCommon} tick={tickRenderer({ side: 'bottom', majors: [] })} />
          <XAxis xAxisId="xt" orientation="top" dataKey="depth" type="number" domain={X_DOMAIN} ticks={X_ALL} height={1} axisLine={FRAME} {...axisCommon} tick={tickRenderer({ side: 'top', majors: X_MAJOR })} />
          <YAxis type="number" domain={Y_BOT_DOMAIN} ticks={Y_BOT_MAJOR} width={1} axisLine={FRAME} {...axisCommon}
            tick={tickRenderer({ side: 'left', majors: Y_BOT_MAJOR, labels: true, fmt: fmtY, font: 'DejaVu Sans', size: 90, offset: 35, shift: 33 })} />
          <YAxis yAxisId="ym" type="number" domain={Y_BOT_DOMAIN} ticks={Y_BOT_MINOR} width={1} axisLine={false} {...axisCommon} tick={tickRenderer({ side: 'left', majors: [] })} />
          <YAxis yAxisId="yr" orientation="right" type="number" domain={Y_BOT_DOMAIN} ticks={Y_BOT_ALL} width={1} axisLine={FRAME} {...axisCommon} tick={tickRenderer({ side: 'right', majors: Y_BOT_MAJOR })} />
          {residualData.map((d, k) => (
            <Line key={'r' + k} data={d} dataKey="r" type="linear" stroke={RESIDUAL_COLORS[k]} strokeWidth={13} strokeLinejoin="round" dot={false} activeDot={false} isAnimationActive={false} />
          ))}
          <ReferenceLine y={0} stroke="rgba(80,80,80,0.75)" strokeWidth={11} strokeDasharray="24 14" />
        </LineChart>
      </div>

      {/* ---------- colour bar ---------- */}
      <div style={{ position: 'absolute', left: 0, top: 0 }}>
        <BarChart width={W} height={H} data={[cbRow]} margin={{ top: CB_T - 1, left: CB_L - 1, right: W - CB_R - 1, bottom: H - CB_B - 1 }} barCategoryGap={0} barGap={0}>
          <XAxis dataKey="name" type="category" height={1} tick={false} tickLine={false} axisLine={FRAME} />
          <XAxis xAxisId="t" orientation="top" dataKey="name" type="category" height={1} tick={false} tickLine={false} axisLine={FRAME} />
          <YAxis type="number" domain={CB_DOMAIN} width={1} tick={false} tickLine={false} axisLine={FRAME} allowDataOverflow />
          <YAxis yAxisId="r" orientation="right" type="number" domain={CB_DOMAIN} ticks={CB_ALL} width={1} axisLine={FRAME} {...axisCommon}
            tick={tickRenderer({ side: 'right', majors: CB_MAJOR, majorLen: 32, minorLen: 15, labels: true, fmt: (v) => String(v), font: 'DejaVu Sans', size: 96, offset: 27, shift: 35 })} />
          {CB_BAND_COLORS.map((c, i) => (
            <Bar key={'b' + i} dataKey={'b' + i} stackId="cb" fill={c} isAnimationActive={false} />
          ))}
        </BarChart>
      </div>

      {/* ---------- text ---------- */}
      <svg width={W} height={H} style={{ position: 'absolute', left: 0, top: 0, pointerEvents: 'none' }}>
        <text x={413} y={138} fontFamily="Roboto" fontSize={100} fill="#000">
          ×10<tspan dy={-36} fontSize={68}>7</tspan>
        </text>
        <text transform="translate(165,668) rotate(-90)" textAnchor="middle" fontFamily="DejaVu Serif" fontStyle="italic" fontSize={104} fill="#000">N</text>
        <text transform="translate(140,1388) rotate(-90)" textAnchor="middle" fontFamily="DejaVu Sans" fontSize={90} fill="#000">%Resid.</text>
        <text x={1036} y={1852} fontFamily="Roboto" fontSize={90} textLength={548} lengthAdjust="spacingAndGlyphs" fill="#000">Depth [g\cm²]</text>
        <text x={1962} y={1836} fontFamily="Roboto" fontSize={102} fill="#000">
          ×10<tspan dy={-40} fontSize={68}>3</tspan>
        </text>
        <text x={2104} y={298} textAnchor="end" fontFamily="Open Sans" fontWeight={700} fontStyle="italic" fontSize={94} fill="#0033a0">Preliminary</text>
        <text x={2088} y={122} fill="#000">
          <tspan fontFamily="DejaVu Serif" fontStyle="italic" fontSize={110}>θ</tspan>
          <tspan dx={20} fontFamily="DejaVu Sans" fontStyle="italic" fontSize={100}>[deg]</tspan>
        </text>
      </svg>
    </div>
  );
}
